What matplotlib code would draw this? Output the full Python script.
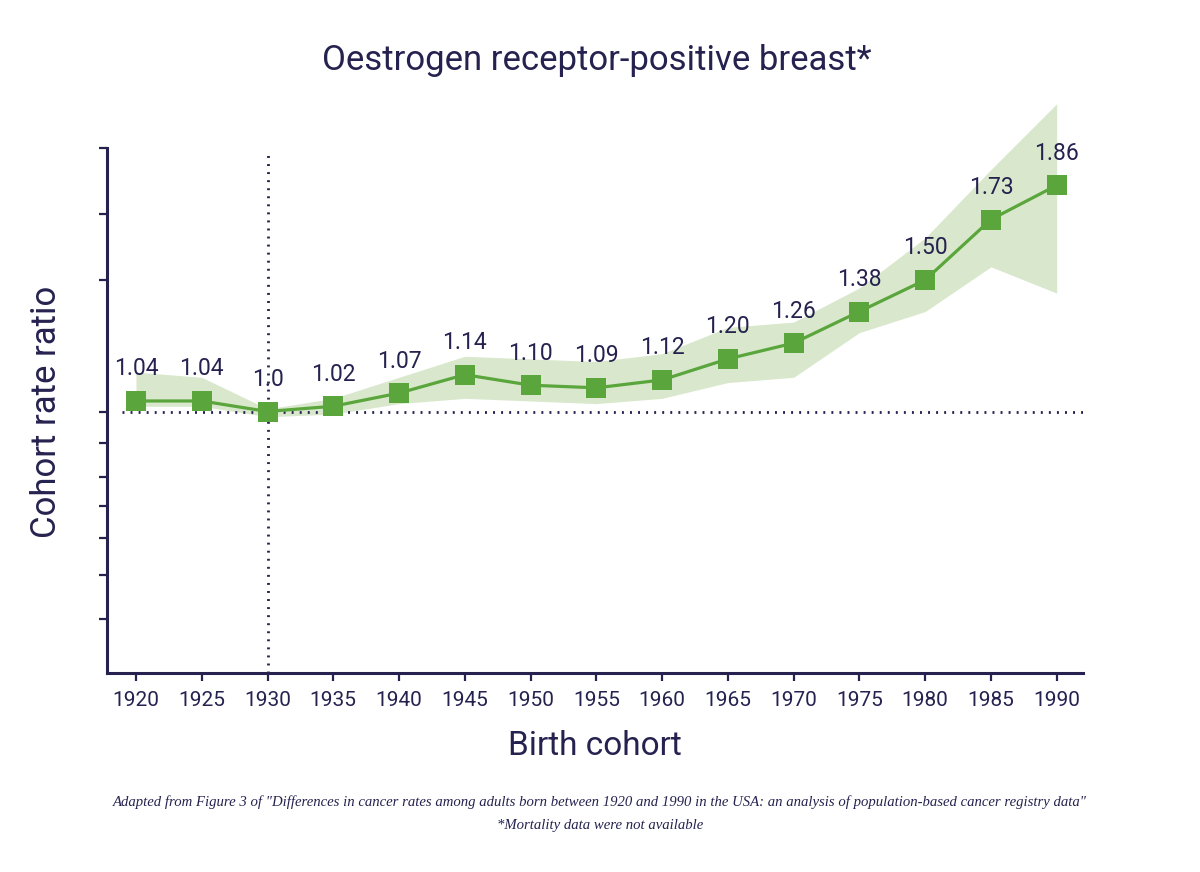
import matplotlib.pyplot as plt
import numpy as np

# data
cohort = [1920, 1925, 1930, 1935, 1940, 1945, 1950, 1955, 1960, 1965, 1970, 1975, 1980, 1985, 1990]
ratio = [1.04, 1.04, 1.0, 1.02, 1.07, 1.14, 1.10, 1.09, 1.12, 1.20, 1.26, 1.38, 1.50, 1.73, 1.86]
ci_low = [1.02, 1.02, 0.98, 0.99, 1.03, 1.05, 1.04, 1.03, 1.05, 1.11, 1.13, 1.30, 1.38, 1.55, 1.45]
ci_high = [1.15, 1.13, 1.01, 1.05, 1.13, 1.21, 1.20, 1.19, 1.22, 1.32, 1.34, 1.47, 1.66, 1.92, 2.17]
labels = ['1.04', '1.04', '1.0', '1.02', '1.07', '1.14', '1.10', '1.09', '1.12',
          '1.20', '1.26', '1.38', '1.50', '1.73', '1.86']
ytick_vals = [0.21, 0.38, 0.52, 0.64, 0.75, 0.88, 1.0, 1.5, 1.75, 2.0]

navy = '#25224f'
green = '#5aa63c'
band = '#d9e8cd'

plt.rcParams['font.family'] = ['Roboto', 'DejaVu Sans']

fig = plt.figure(figsize=(12, 8.72), dpi=100)
ax = fig.add_axes([0.0892, 0.2282, 0.8133, 0.6686])

ax.fill_between(cohort, ci_low, ci_high, color=band, lw=0, zorder=1)
ax.plot(cohort, ratio, color=green, lw=2.3, marker='s', markersize=14,
        markeredgewidth=0, zorder=3)

# reference lines
ax.axhline(1.0, xmin=0.015, xmax=1, color=navy, lw=2.0, ls=(0, (0.7, 2.2)), zorder=2)
ax.axvline(1930, ymin=0, ymax=0.897, color=navy, lw=2.0, ls=(0, (0.7, 2.2)), zorder=2)

for x, y, t in zip(cohort, ratio, labels):
    ax.annotate(t, (x, y), xytext=(0, 32), textcoords='offset pixels',
                ha='center', va='center', fontsize=16.5, color=navy, zorder=4)

y0 = 1 - 261.5 / 263
ax.set_xlim(1917.8, 1992.0)
ax.set_ylim(y0, y0 + 583 / 263)
ax.set_xticks(cohort)
ax.set_yticks(ytick_vals)
ax.set_yticklabels([])

for s in ['top', 'right']:
    ax.spines[s].set_visible(False)
for s in ['left', 'bottom']:
    ax.spines[s].set_color(navy)
    ax.spines[s].set_linewidth(2.2)
ax.spines['left'].set_bounds(y0, 2.0)
ax.tick_params(axis='both', colors=navy, length=6, width=1.6, labelsize=15, pad=7)

ax.set_xlabel('Birth cohort', fontsize=24, color=navy, labelpad=14)
ax.set_ylabel('Cohort rate ratio', fontsize=25, color=navy)
ax.yaxis.set_label_coords(-0.045, 0.448)

fig.text(0.4975, 0.931, 'Oestrogen receptor-positive breast*', ha='center', va='center',
         fontsize=25, color=navy)

fig.text(0.5, 0.080, 'Adapted from Figure 3 of "Differences in cancer rates among adults born between 1920 and 1990 '
         'in the USA: an analysis of population-based cancer registry data"',
         ha='center', va='center', fontsize=10.6, style='italic', color=navy,
         family=['Liberation Serif', 'DejaVu Serif'])
fig.text(0.5, 0.053, '*Mortality data were not available', ha='center', va='center',
         fontsize=10.6, style='italic', color=navy, family=['Liberation Serif', 'DejaVu Serif'])

fig.savefig('out.png', dpi=100, facecolor='white')
